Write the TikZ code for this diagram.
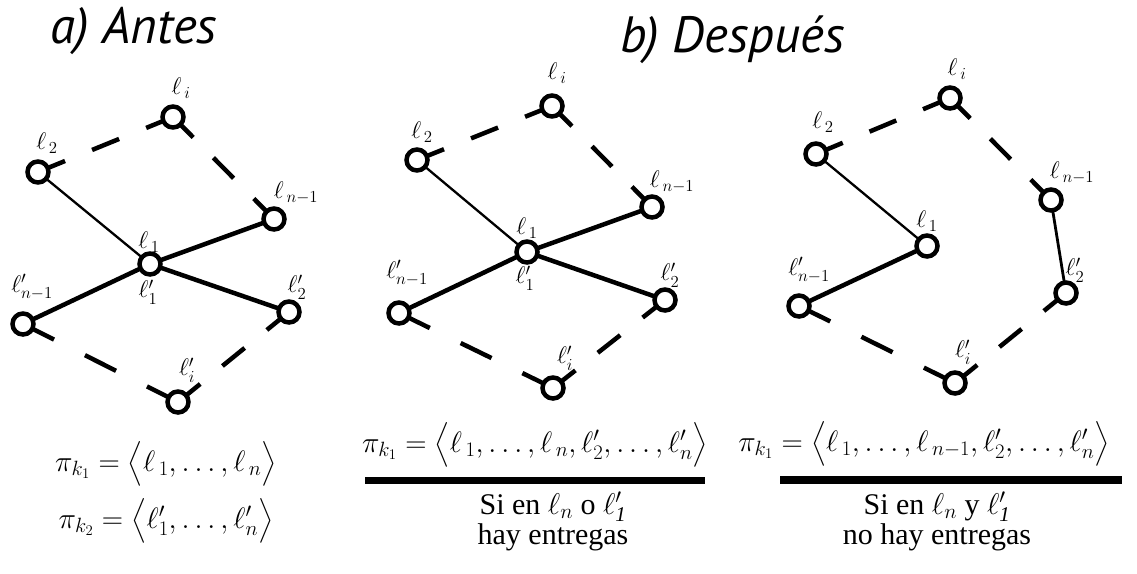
\RequirePackage{fix-cm}
\documentclass[tikz,border=0pt]{standalone}
\usepackage{amsmath}
\usepackage{fontspec}
\setmainfont{Liberation Serif}
\newfontfamily\titlefont{PT Sans}
\usetikzlibrary{backgrounds}
\begin{document}
\begin{tikzpicture}[x=1pt,y=-1pt,
  vtx/.style={circle,draw=black,fill=white,line width=4.5pt,minimum size=21pt,inner sep=0pt},
  lbl/.style={font=\fontsize{24}{28}\selectfont,inner sep=0pt},
  thinedge/.style={line width=2.3pt},
  thickedge/.style={line width=4.5pt},
  midedge/.style={line width=2.8pt},
  dedge/.style={line width=4.5pt,dash pattern=on #1pt off #1pt},
  ttl/.style={font=\titlefont\itshape\fontsize{51}{57}\selectfont,inner sep=0pt,anchor=base west},
  frm/.style={font=\fontsize{29.5}{35}\selectfont,inner sep=0pt,anchor=base},
  txt/.style={font=\fontsize{30}{30}\selectfont,inner sep=0pt,anchor=base,align=center},
]
\useasboundingbox (0,0) rectangle (1137,573);

% titles
\node[ttl] (ta) at (50,43) {a) Antes};
\node[ttl] (tb) at (620,52) {b) Después};

% ---------- panel a ----------
\node[vtx] (ai)  at (173,117) {};
\node[vtx] (a2)  at (38,172) {};
\node[vtx] (an)  at (274,219) {};
\node[vtx] (a1)  at (150,264) {};
\node[vtx] (apn) at (23,324) {};
\node[vtx] (ap2) at (289,312) {};
\node[vtx] (api) at (178,402) {};

\node[lbl] (la-i)  at (181,88)  {$\ell_{\,i}$};
\node[lbl] (la-2)  at (47,143)  {$\ell_{\,2}$};
\node[lbl] (la-n)  at (296,193) {$\ell_{\,n-1}$};
\node[lbl] (la-1)  at (149,242) {$\ell_{\,1}$};
\node[lbl] (la-p1) at (148,292) {$\ell'_{1}$};
\node[lbl] (la-pn) at (32,287)  {$\ell'_{n-1}$};
\node[lbl] (la-p2) at (297,287) {$\ell'_{2}$};
\node[lbl] (la-pi) at (187,370) {$\ell'_{i}$};

\begin{scope}[on background layer]
\draw[dedge=29.2] (a2.center) -- (ai.center);
\draw[dedge=28.7] (ai.center) -- (an.center);
\draw[dedge=34.7] (apn.center) -- (api.center);
\draw[dedge=28.6] (api.center) -- (ap2.center);
\draw[thinedge] (a2.center) -- (a1.center);
\draw[thickedge] (a1.center) -- (an.center);
\draw[thickedge] (apn.center) -- (a1.center);
\draw[thickedge] (a1.center) -- (ap2.center);
\end{scope}

\node[frm] (fa1) at (166,471) {$\pi_{k_1}=\bigl\langle \ell_{\,1},\ldots,\ell_{\,n}\bigr\rangle$};
\node[frm] (fa2) at (166,528) {$\pi_{k_2}=\bigl\langle \ell'_{1},\ldots,\ell'_{n}\bigr\rangle$};

% ---------- panel b ----------
\node[vtx] (bi)  at (552,106) {};
\node[vtx] (b2)  at (417,160) {};
\node[vtx] (bn)  at (652,207) {};
\node[vtx] (b1)  at (527,252) {};
\node[vtx] (bpn) at (399,313) {};
\node[vtx] (bp2) at (665,300) {};
\node[vtx] (bpi) at (553,388) {};

\node[lbl] (lb-i)  at (557,73)  {$\ell_{\,i}$};
\node[lbl] (lb-2)  at (422,132) {$\ell_{\,2}$};
\node[lbl] (lb-n)  at (672,182) {$\ell_{\,n-1}$};
\node[lbl] (lb-1)  at (527,228) {$\ell_{\,1}$};
\node[lbl] (lb-p1) at (525,278) {$\ell'_{1}$};
\node[lbl] (lb-pn) at (407,273) {$\ell'_{n-1}$};
\node[lbl] (lb-p2) at (670,275) {$\ell'_{2}$};
\node[lbl] (lb-pi) at (565,358) {$\ell'_{i}$};

\begin{scope}[on background layer]
\draw[dedge=29.1] (b2.center) -- (bi.center);
\draw[dedge=28.4] (bi.center) -- (bn.center);
\draw[dedge=34.3] (bpn.center) -- (bpi.center);
\draw[dedge=28.5] (bpi.center) -- (bp2.center);
\draw[thinedge] (b2.center) -- (b1.center);
\draw[thickedge] (b1.center) -- (bn.center);
\draw[thickedge] (bpn.center) -- (b1.center);
\draw[thickedge] (b1.center) -- (bp2.center);
\end{scope}

\node[frm] (fb) at (535,452) {$\pi_{k_1}=\bigl\langle \ell_{\,1},\ldots,\ell_{\,n},\ell'_{2},\ldots,\ell'_{n}\bigr\rangle$};
\fill (365,477) rectangle (705,484);
\node[txt] (tb1) at (553,544) {Si en $\ell_{n}$ o $\ell'_{\mathit{1}}$\\hay entregas};

% ---------- panel c ----------
\node[vtx] (ci)  at (950,98) {};
\node[vtx] (c2)  at (816,154) {};
\node[vtx] (cn)  at (1051,200) {};
\node[vtx] (c1)  at (927,246) {};
\node[vtx] (cpn) at (799,306) {};
\node[vtx] (cp2) at (1066,293) {};
\node[vtx] (cpi) at (955,383) {};

\node[lbl] (lc-i)  at (957,69)   {$\ell_{\,i}$};
\node[lbl] (lc-2)  at (823,122)  {$\ell_{\,2}$};
\node[lbl] (lc-n)  at (1072,173) {$\ell_{\,n-1}$};
\node[lbl] (lc-1)  at (927,221)  {$\ell_{\,1}$};
\node[lbl] (lc-pn) at (809,270)  {$\ell'_{n-1}$};
\node[lbl] (lc-p2) at (1075,270) {$\ell'_{2}$};
\node[lbl] (lc-pi) at (963,352)  {$\ell'_{i}$};

\begin{scope}[on background layer]
\draw[dedge=29.0] (c2.center) -- (ci.center);
\draw[dedge=28.7] (ci.center) -- (cn.center);
\draw[dedge=34.8] (cpn.center) -- (cpi.center);
\draw[dedge=28.6] (cpi.center) -- (cp2.center);
\draw[thinedge] (c2.center) -- (c1.center);
\draw[thickedge] (cpn.center) -- (c1.center);
\draw[midedge] (cn.center) -- (cp2.center);
\end{scope}

\node[frm] (fc) at (924,451) {$\pi_{k_1}=\bigl\langle \ell_{\,1},\ldots,\ell_{\,n-1},\ell'_{2},\ldots,\ell'_{n}\bigr\rangle$};
\fill (780,476) rectangle (1122,484);
\node[txt] (tc1) at (937,544) {Si en $\ell_{n}$ y $\ell'_{\mathit{1}}$\\no hay entregas};
\end{tikzpicture}
\end{document}
